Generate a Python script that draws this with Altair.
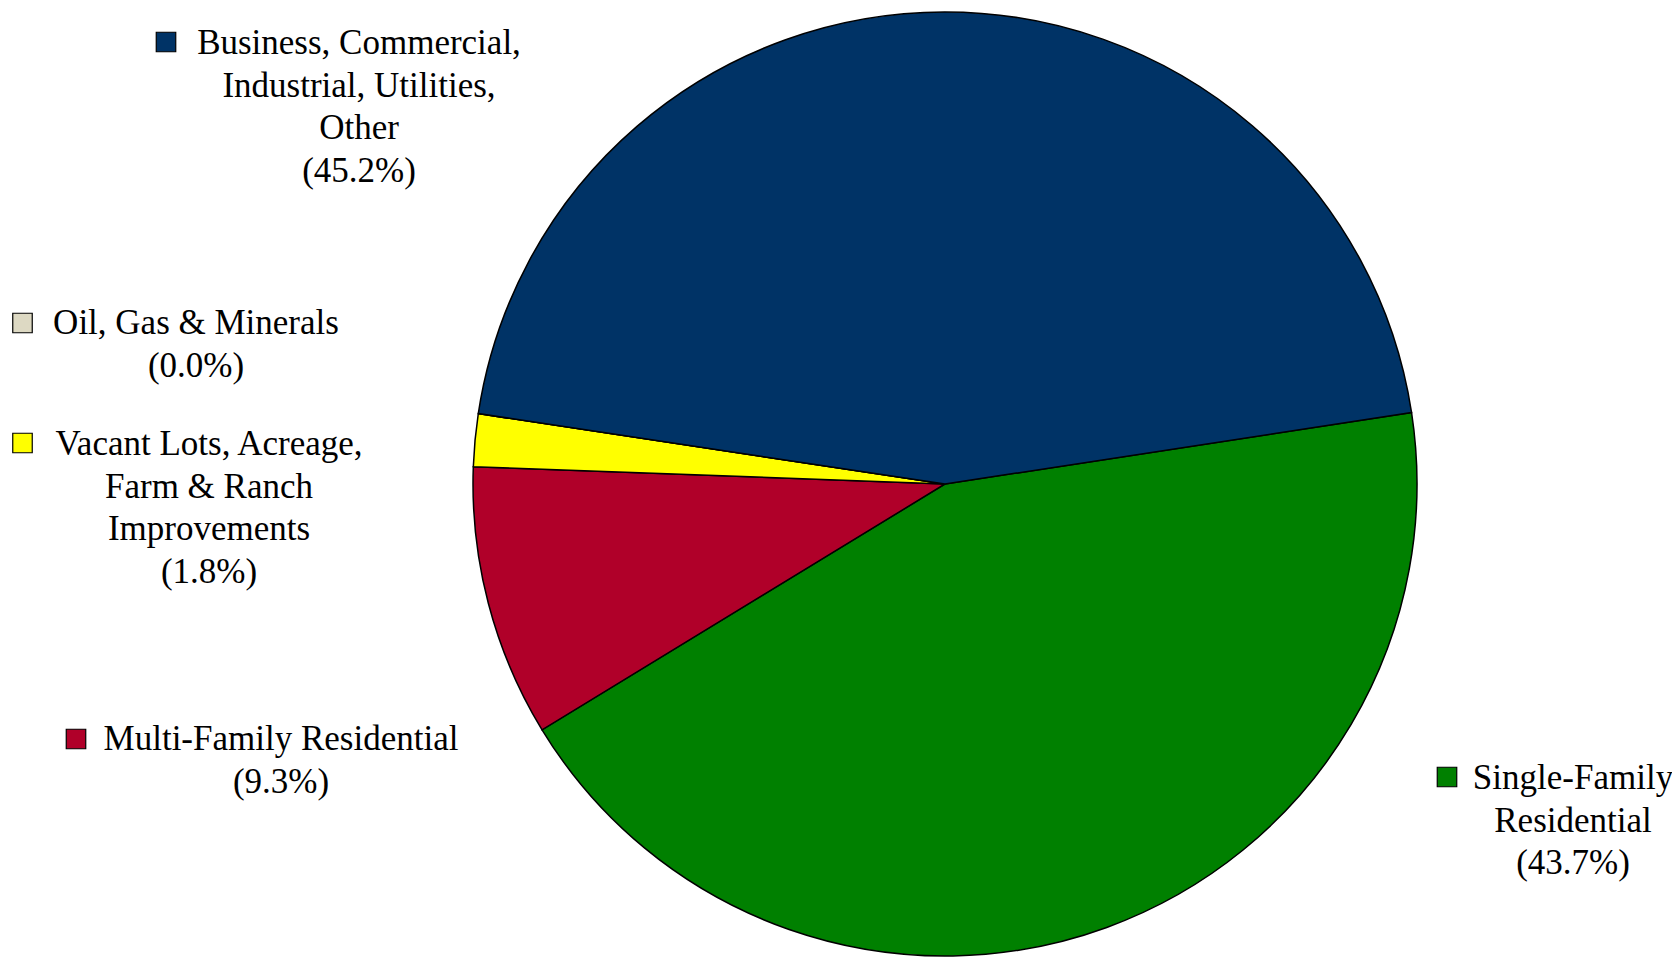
import math
import altair as alt
import pandas as pd

# ---- data ----
categories = [
    "Single-Family Residential",
    "Multi-Family Residential",
    "Vacant Lots, Acreage, Farm & Ranch Improvements",
    "Oil, Gas & Minerals",
    "Business, Commercial, Industrial, Utilities, Other",
]
shares = [43.7, 9.3, 1.8, 0.0, 45.2]
colors = ["#008000", "#B00029", "#FFFF00", "#DDD9C3", "#003366"]
label_lines = [
    ["Single-Family", "Residential"],
    ["Multi-Family Residential"],
    ["Vacant Lots, Acreage,", "Farm & Ranch", "Improvements"],
    ["Oil, Gas & Minerals"],
    ["Business, Commercial,", "Industrial, Utilities,", "Other"],
]

# ---- layout (pixels, chart coordinates) ----
W, H = 1664, 950
pie_cx, pie_cy, pie_r = 937, 476, 472
start_angle = math.radians(81.3)
line_h = 42.5
font = "Liberation Serif"
font_size = 35
label_anchor = [(1565, 770), (273, 731), (201, 436), (188, 315), (351, 35)]
marker_pos = [(1439, 769), (68, 731), (14.5, 435), (14.5, 315), (158, 34)]

pie_df = pd.DataFrame({
    "category": categories,
    "share": shares,
    "order": list(range(len(categories))),
})

text_rows = []
for i, cat in enumerate(categories):
    lines = label_lines[i] + [f"({shares[i]:.1f}%)"]
    ax, ay = label_anchor[i]
    for j, ln in enumerate(lines):
        text_rows.append({"category": cat, "line": ln, "px": ax, "py": ay + j * line_h})
text_df = pd.DataFrame(text_rows)

marker_df = pd.DataFrame({
    "category": categories,
    "px": [p[0] for p in marker_pos],
    "py": [p[1] for p in marker_pos],
})

color_scale = alt.Scale(domain=categories, range=colors)
total = sum(shares)

pie = alt.Chart(pie_df).mark_arc(
    outerRadius=pie_r, x=pie_cx, y=pie_cy, stroke="black", strokeWidth=1.5
).encode(
    theta=alt.Theta("share:Q", stack=True,
                    scale=alt.Scale(domain=[0, total], range=[start_angle, start_angle + 2 * math.pi])),
    order=alt.Order("order:Q", sort="ascending"),
    color=alt.Color("category:N", scale=color_scale, legend=None),
)

texts = alt.Chart(text_df).mark_text(
    font=font, fontSize=font_size, align="center", baseline="middle", color="#000000"
).encode(
    x=alt.X("px:Q", scale=None, axis=None),
    y=alt.Y("py:Q", scale=None, axis=None),
    text="line:N",
)

markers = alt.Chart(marker_df).mark_square(
    size=380, opacity=1, stroke="black", strokeWidth=1.2
).encode(
    x=alt.X("px:Q", scale=None, axis=None),
    y=alt.Y("py:Q", scale=None, axis=None),
    fill=alt.Fill("category:N", scale=color_scale, legend=None),
)

chart = alt.layer(pie, markers, texts).properties(
    width=W, height=H,
    autosize=alt.AutoSizeParams(type="none"),
    padding=0,
).configure_view(stroke=None)

chart.save("out.html", embed_options={"renderer": "svg", "actions": False})
